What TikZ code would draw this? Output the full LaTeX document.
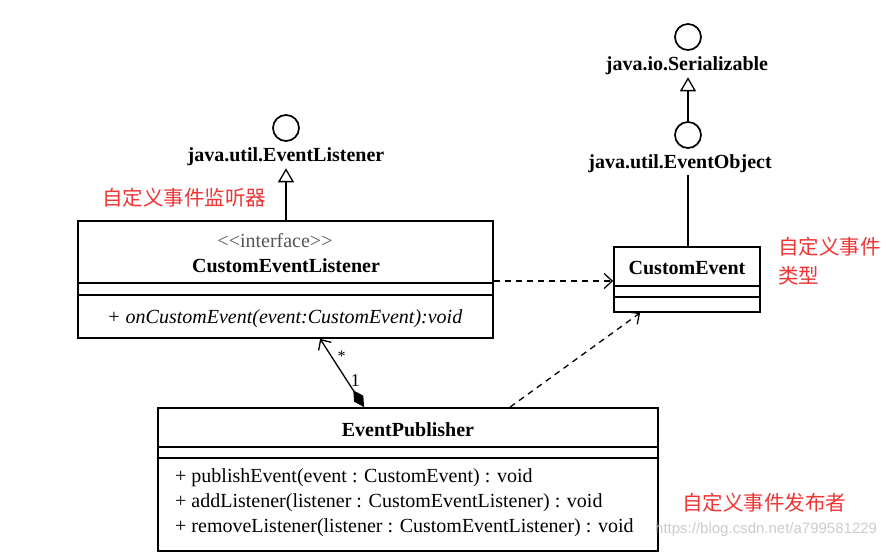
\documentclass[tikz,border=0pt]{standalone}
\usepackage{fontspec}
\setmainfont{Liberation Serif}
\newfontfamily\cjk{Noto Sans CJK SC}
\newfontfamily\wmfont{Liberation Sans}
\usepackage{tikz}
\usetikzlibrary{arrows.meta, calc}
\definecolor{note}{RGB}{240,52,52}
\definecolor{stereo}{RGB}{85,85,85}
\tikzstyle{cls} = [draw, line width=1.8pt, inner sep=0pt]
\tikzstyle{lolly} = [draw, circle, line width=1.7pt, minimum size=26pt, inner sep=0pt]
\tikzstyle{iname} = [font=\fontsize{20}{24}\selectfont\bfseries, inner sep=2pt]
\tikzstyle{part} = [line width=1.3pt]
\tikzstyle{realize} = [line width=1.3pt, -{Triangle[open, length=14pt, width=16pt]}]
\tikzstyle{depend} = [line width=1.3pt, dash pattern=on 6pt off 5pt, -{Straight Barb[length=8pt, width=15pt]}]
\tikzstyle{note} = [text=note, font=\fontsize{20.5}{29}\selectfont\cjk, anchor=west, align=left, inner sep=0pt]
\tikzstyle{op} = [anchor=west, inner sep=0pt]

\begin{document}
\begin{tikzpicture}[x=1pt, y=-1pt, font=\fontsize{20}{24}\selectfont]
        \useasboundingbox (0,0) rectangle (886,553);
        % class boxes
        \node (lst) [cls, minimum width=415pt, minimum height=117pt] at (285.5,279.5) {};
        \node (evt) [cls, minimum width=146pt, minimum height=65pt] at (687,279.5) {};
        \node (pub) [cls, minimum width=500pt, minimum height=143pt] at (408,479.5) {};
        \draw [part] (lst.west |- 0,283) -- (lst.east |- 0,283);
        \draw [part] (lst.west |- 0,295) -- (lst.east |- 0,295);
        \draw [part] (evt.west |- 0,286) -- (evt.east |- 0,286);
        \draw [part] (evt.west |- 0,297) -- (evt.east |- 0,297);
        \draw [part] (pub.west |- 0,447) -- (pub.east |- 0,447);
        \draw [part] (pub.west |- 0,458) -- (pub.east |- 0,458);
        \node (lststereo) [text=stereo] at (275,241) {{<}{<}interface{>}{>}};
        \node (lstname) [font=\fontsize{20}{24}\selectfont\bfseries] at (286,266) {CustomEventListener};
        \node (lstop) [op, font=\fontsize{20}{24}\selectfont\itshape] at (107,319) {+ onCustomEvent(event:CustomEvent):void};
        \node (evtname) [font=\fontsize{20}{24}\selectfont\bfseries] at (687,268) {CustomEvent};
        \node (pubname) [font=\fontsize{20}{24}\selectfont\bfseries] at (408,430) {EventPublisher};
        \node (pubop1) [op] at (175,478) {+ publishEvent(event : CustomEvent) : void};
        \node (pubop2) [op] at (175,503) {+ addListener(listener : CustomEventListener) : void};
        \node (pubop3) [op] at (175,528) {+ removeListener(listener : CustomEventListener) : void};
        % interfaces
        \node (el) [lolly] at (286,128) {};
        \node (elname) [iname] at (286,157) {java.util.EventListener};
        \node (ser) [lolly] at (688,37) {};
        \node (sername) [iname] at (687,66) {java.io.Serializable};
        \node (eo) [lolly] at (688,135) {};
        \node (eoname) [iname] at (680,164) {java.util.EventObject};
        \draw [realize] (lst.north -| el) -- (elname.south -| el);
        \draw [realize] (eo.north) -- (sername.south -| eo);
        \draw [part] (evt.north -| eo) -- (eoname.south -| eo);
        % relations
        \draw [depend] (lst.east |- 0,281) -- (evt.west |- 0,281);
        \draw [depend] ([xshift=353pt]pub.north west) -- ([xshift=27pt]evt.south west);
        \draw [line width=1.3pt, {Diamond[length=20pt, width=11pt]}-{Straight Barb[length=8pt, width=15pt]}]
            ([xshift=207pt]pub.north west) -- node [pos=.39, right, font=\fontsize{18}{20}\selectfont] {1}
            node [pos=.74, right=2pt, font=\fontsize{16}{18}\selectfont] {*} ([xshift=243pt]lst.south west);
        % notes
        \node (lstnote) [note] at (102,198) {自定义事件监听器};
        \node (evtnote) [note] at (778,261) {自定义事件\\类型};
        \node (pubnote) [note] at (682,503) {自定义事件发布者};
        \node (wm) [anchor=west, inner sep=0pt, text=black!20, font=\fontsize{15}{17}\selectfont\wmfont] at (655,530) {https://blog.csdn.net/a799581229};
    \end{tikzpicture}
\end{document}
